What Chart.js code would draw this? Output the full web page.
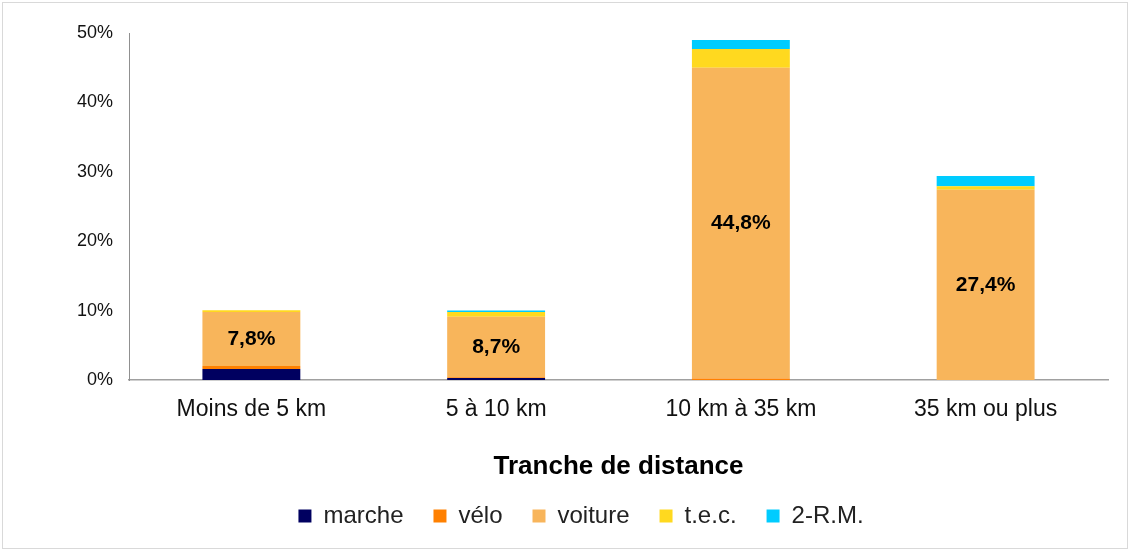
<!DOCTYPE html>
<html>
<head>
<meta charset="utf-8">
<script src="https://cdn.jsdelivr.net/npm/chart.js@4"></script>
<style>
html,body{margin:0;padding:0;background:#fff;}
#wrap{position:relative;width:1130px;height:551px;}
</style>
</head>
<body>
<div id="wrap"><canvas id="c"></canvas></div>
<script>
const categories = ["Moins de 5 km", "5 à 10 km", "10 km à 35 km", "35 km ou plus"];
const marche  = [1.6, 0.3, 0.0, 0.0];
const velo    = [0.4, 0.1, 0.2, 0.0];
const voiture = [7.8, 8.7, 44.8, 27.4];
const tec     = [0.25, 0.7, 2.7, 0.5];
const deuxRM  = [0.0, 0.2, 1.3, 1.5];
const yTicks  = [0, 10, 20, 30, 40, 50];

const FONT = "'Liberation Sans', Arial, sans-serif";

const framePlugin = {
  id: 'frame',
  beforeDraw(chart) {
    const ctx = chart.ctx;
    ctx.save();
    ctx.fillStyle = '#fff';
    ctx.fillRect(0, 0, chart.width, chart.height);
    ctx.strokeStyle = '#d9d9d9';
    ctx.lineWidth = 1;
    ctx.strokeRect(2.5, 2.5, chart.width - 5, chart.height - 5);
    ctx.restore();
  }
};

const labelPlugin = {
  id: 'voitureLabels',
  afterDatasetsDraw(chart) {
    const ctx = chart.ctx;
    const meta = chart.getDatasetMeta(2);
    ctx.save();
    ctx.font = "bold 21px " + FONT;
    ctx.fillStyle = '#000';
    ctx.textAlign = 'center';
    ctx.textBaseline = 'middle';
    meta.data.forEach((bar, i) => {
      const v = voiture[i];
      const txt = v.toFixed(1).replace('.', ',') + '%';
      ctx.fillText(txt, bar.x, (bar.y + bar.base) / 2);
    });
    ctx.restore();
  }
};

new Chart(document.getElementById('c'), {
  type: 'bar',
  data: {
    labels: categories,
    datasets: [
      { label: 'marche',  data: marche,  backgroundColor: '#000060' },
      { label: 'vélo',    data: velo,    backgroundColor: '#ff8000' },
      { label: 'voiture', data: voiture, backgroundColor: '#f8b55b' },
      { label: 't.e.c.',  data: tec,     backgroundColor: '#ffd91f' },
      { label: '2-R.M.',  data: deuxRM,  backgroundColor: '#00ccff' }
    ]
  },
  options: {
    responsive: true,
    maintainAspectRatio: false,
    animation: false,
    datasets: { bar: { barPercentage: 0.4, categoryPercentage: 1.0, borderWidth: 0 } },
    layout: { padding: { left: 54, right: 22, top: 33, bottom: 13 } },
    plugins: {
      tooltip: { enabled: false },
      legend: {
        position: 'bottom',
        labels: {
          font: { family: FONT, size: 24 },
          color: '#222',
          boxWidth: 13,
          boxHeight: 13,
          padding: 30
        }
      }
    },
    scales: {
      x: {
        stacked: true,
        grid: { display: false, drawTicks: false },
        border: { display: true, color: '#a0a0a0', width: 1.5 },
        ticks: { font: { family: FONT, size: 23 }, color: '#111', padding: 16 },
        title: {
          display: true,
          text: 'Tranche de distance',
          font: { family: FONT, size: 26, weight: 'bold' },
          color: '#000',
          padding: { top: 0, bottom: -8 }
        },
        afterFit(scale) { scale.height = 94; }
      },
      y: {
        stacked: true,
        min: 0,
        max: 50,
        afterBuildTicks(scale) { scale.ticks = yTicks.map(v => ({ value: v })); },
        grid: { display: false, drawTicks: false },
        border: { display: true, color: '#909090', width: 1 },
        ticks: {
          font: { family: FONT, size: 18 },
          color: '#111',
          padding: 16,
          callback: v => v + '%'
        },
        afterFit(scale) { scale.width = 75; }
      }
    }
  },
  plugins: [framePlugin, labelPlugin]
});
</script>
</body>
</html>
